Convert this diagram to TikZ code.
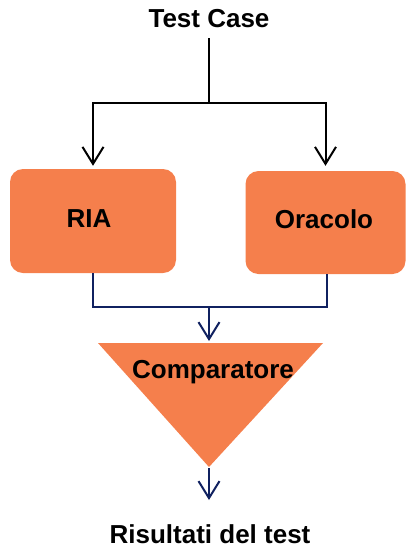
\documentclass[tikz,border=0pt]{standalone}
\usepackage{fontspec}
\setmainfont{Liberation Sans}
\usetikzlibrary{arrows.meta}
\definecolor{boxorange}{RGB}{245,127,76}
\definecolor{navyline}{RGB}{16,33,96}
\begin{document}
\begin{tikzpicture}[x=1pt,y=-1pt,
  lbl/.style={font=\fontsize{26}{30}\selectfont\bfseries, inner sep=0pt, anchor=base},
  box/.style={fill=boxorange, draw=none, rounded corners=13pt, inner sep=0pt},
  blk/.style={draw=black, line width=2pt},
  nvy/.style={draw=navyline, line width=2pt},
  tip/.style={-{Straight Barb[length=17pt,width=21pt,line width=2pt]}}
]
\useasboundingbox (0,0) rectangle (406,547);
% top label
\node[lbl] (tc) at (209,27) {Test Case};
% boxes
\node[box, minimum width=166pt, minimum height=104pt] (ria) at (93,221) {};
\node[box, minimum width=160pt, minimum height=103pt] (ora) at (325.5,222.5) {};
\node[lbl] (riat) at (89,227) {RIA};
\node[lbl] (orat) at (324,228) {Oracolo};
% comparator triangle
\coordinate (cl) at (98,343);
\coordinate (cr) at (323,343);
\coordinate (ctop) at (209,343);
\coordinate (capex) at (209,467);
\fill[boxorange] (cl) -- (cr) -- (capex) -- cycle;
\node[lbl] (cmp) at (213,378) {Comparatore};
% result label
\node[lbl] (res) at (210,543) {Risultati del test};
% top connectors
\coordinate (tcb) at (209,38);
\coordinate (j1) at (209,103);
\draw[blk] (tcb) -- (j1);
\draw[blk, tip, shorten >=3pt] (j1) -| (ria.north);
\draw[blk, tip, shorten >=5pt] (j1) -| (ora.north);
% bottom connectors
\coordinate (j2) at (209,307);
\draw[nvy] (ria.south) |- (j2);
\draw[nvy] ([xshift=1pt]ora.south) |- (j2);
\draw[nvy, tip, shorten >=2pt] (j2) -- (ctop);
\coordinate (rest) at (209,500);
\draw[nvy, tip, shorten <=1pt] (capex) -- (rest);
\end{tikzpicture}
\end{document}
